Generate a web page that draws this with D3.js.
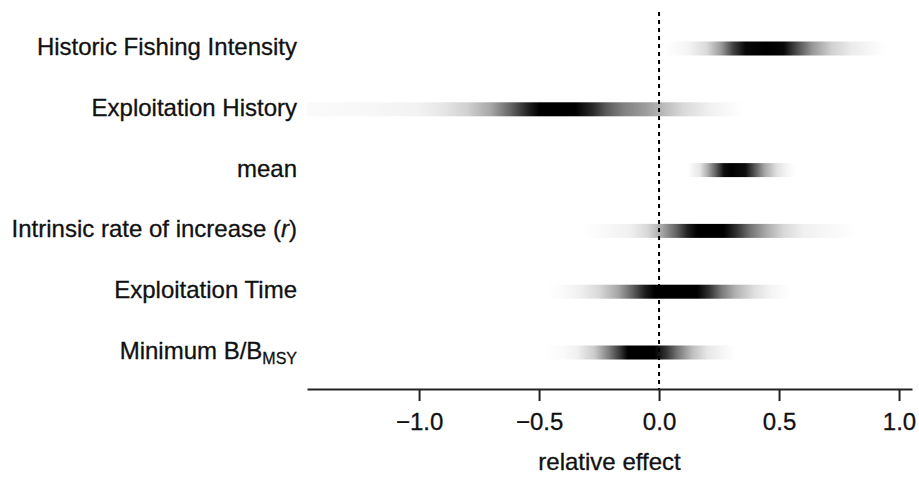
<!DOCTYPE html>
<html>
<head>
<meta charset="utf-8">
<script src="https://cdn.jsdelivr.net/npm/d3@7"></script>
<style>
  body { margin: 0; background: #fff; }
  svg text { font-family: "Liberation Sans", Arial, sans-serif; fill: #111; stroke: #111; stroke-width: 0.3px; }
</style>
</head>
<body>
<div id="chart"></div>
<script>
const width = 919, height = 477;

// rows, top to bottom
const categories = ["Historic Fishing Intensity", "Exploitation History", "mean",
  "Intrinsic rate of increase (r)", "Exploitation Time", "Minimum B/BMSY"];

// density strips: [relative effect, darkness 0..1]
const histFishing = [[0.02,0],[0.12,0.04],[0.2,0.15],[0.26,0.4],[0.31,0.75],[0.36,0.97],[0.45,1],
  [0.52,0.97],[0.575,0.7],[0.64,0.4],[0.72,0.18],[0.8,0.08],[0.88,0.03],[0.95,0]];
const exploitHistory = [[-1.467,0.02],[-1.2,0.03],[-1.0,0.05],[-0.9,0.1],[-0.8,0.18],[-0.7,0.35],
  [-0.62,0.6],[-0.55,0.85],[-0.5,1],[-0.35,1],[-0.28,0.85],[-0.22,0.65],[-0.15,0.5],[-0.05,0.38],
  [0.0,0.3],[0.1,0.15],[0.22,0.05],[0.35,0]];
const meanEffect = [[0.12,0],[0.17,0.1],[0.2,0.3],[0.24,0.65],[0.27,0.95],[0.3,1],[0.36,0.95],
  [0.4,0.65],[0.44,0.35],[0.49,0.12],[0.53,0.04],[0.57,0]];
const intrinsicR = [[-0.32,0],[-0.2,0.03],[-0.12,0.06],[-0.05,0.15],[0.0,0.3],[0.07,0.6],[0.12,0.88],
  [0.16,1],[0.27,1],[0.32,0.82],[0.38,0.55],[0.45,0.32],[0.52,0.15],[0.6,0.06],[0.7,0.03],[0.82,0]];
const exploitTime = [[-0.47,0],[-0.4,0.02],[-0.33,0.06],[-0.25,0.15],[-0.17,0.35],[-0.11,0.62],
  [-0.06,0.88],[-0.02,1],[0.16,1],[0.21,0.8],[0.26,0.52],[0.32,0.3],[0.4,0.12],[0.47,0.04],[0.55,0]];
const minBmsy = [[-0.48,0],[-0.4,0.02],[-0.34,0.06],[-0.27,0.2],[-0.21,0.5],[-0.16,0.8],[-0.13,1],
  [-0.02,1],[0.03,0.8],[0.08,0.52],[0.14,0.25],[0.2,0.1],[0.27,0.03],[0.32,0]];

const strips = [histFishing, exploitHistory, meanEffect, intrinsicR, exploitTime, minBmsy];
const xTicks = [-1.0, -0.5, 0.0, 0.5, 1.0];

const x = d3.scaleLinear().domain([-1.467, 1.054]).range([307, 912]);
const y = d3.scalePoint().domain(d3.range(categories.length)).range([48.5, 352.5]);
const shade = d3.interpolateRgb("#ffffff", "#000000");

const svg = d3.select('#chart').append('svg')
  .attr('width', width).attr('height', height);

const defs = svg.append('defs');

strips.forEach((s, i) => {
  const x0 = x(s[0][0]), x1 = x(s[s.length - 1][0]);
  const g = defs.append('linearGradient')
    .attr('id', 'strip' + i)
    .attr('gradientUnits', 'userSpaceOnUse')
    .attr('x1', x0).attr('x2', x1).attr('y1', 0).attr('y2', 0);
  g.selectAll('stop').data(s).join('stop')
    .attr('offset', d => (x(d[0]) - x0) / (x1 - x0))
    .attr('stop-color', d => shade(d[1]));
});

svg.append('g').selectAll('rect')
  .data(strips)
  .join('rect')
  .attr('x', d => x(d[0][0]))
  .attr('width', d => x(d[d.length - 1][0]) - x(d[0][0]))
  .attr('y', (d, i) => y(i) - 7)
  .attr('height', 14)
  .attr('fill', (d, i) => 'url(#strip' + i + ')');

// zero line
svg.append('line')
  .attr('x1', x(0)).attr('x2', x(0))
  .attr('y1', 12).attr('y2', 389)
  .attr('stroke', '#000').attr('stroke-width', 2)
  .attr('stroke-dasharray', '4,4');

// x axis
const axis = svg.append('g')
  .attr('transform', 'translate(0,389)')
  .call(d3.axisBottom(x).tickValues(xTicks).tickSize(12).tickSizeOuter(0).tickFormat(d3.format('.1f')));
axis.select('.domain').attr('stroke', '#222').attr('stroke-width', 2);
axis.selectAll('.tick line').attr('stroke', '#222').attr('stroke-width', 2);
axis.selectAll('.tick text')
  .attr('y', 41).attr('dy', 0)
  .style('font-size', '24px').style('fill', '#111');

svg.append('text')
  .attr('x', (x.range()[0] + x.range()[1]) / 2)
  .attr('y', 470)
  .attr('text-anchor', 'middle')
  .style('font-size', '24px')
  .text('relative effect');

// row labels
const labels = svg.append('g').selectAll('text')
  .data(categories)
  .join('text')
  .attr('x', 297)
  .attr('y', (d, i) => y(i) + 6.5)
  .attr('text-anchor', 'end')
  .style('font-size', '24px');

labels.each(function(d) {
  const t = d3.select(this);
  if (d.endsWith('(r)')) {
    t.append('tspan').text('Intrinsic rate of increase (');
    t.append('tspan').style('font-style', 'italic').text('r');
    t.append('tspan').text(')');
  } else if (d.endsWith('BMSY')) {
    t.append('tspan').text('Minimum B/B');
    t.append('tspan').attr('dy', 5).style('font-size', '16px').text('MSY');
  } else {
    t.text(d);
  }
});
</script>
</body>
</html>
